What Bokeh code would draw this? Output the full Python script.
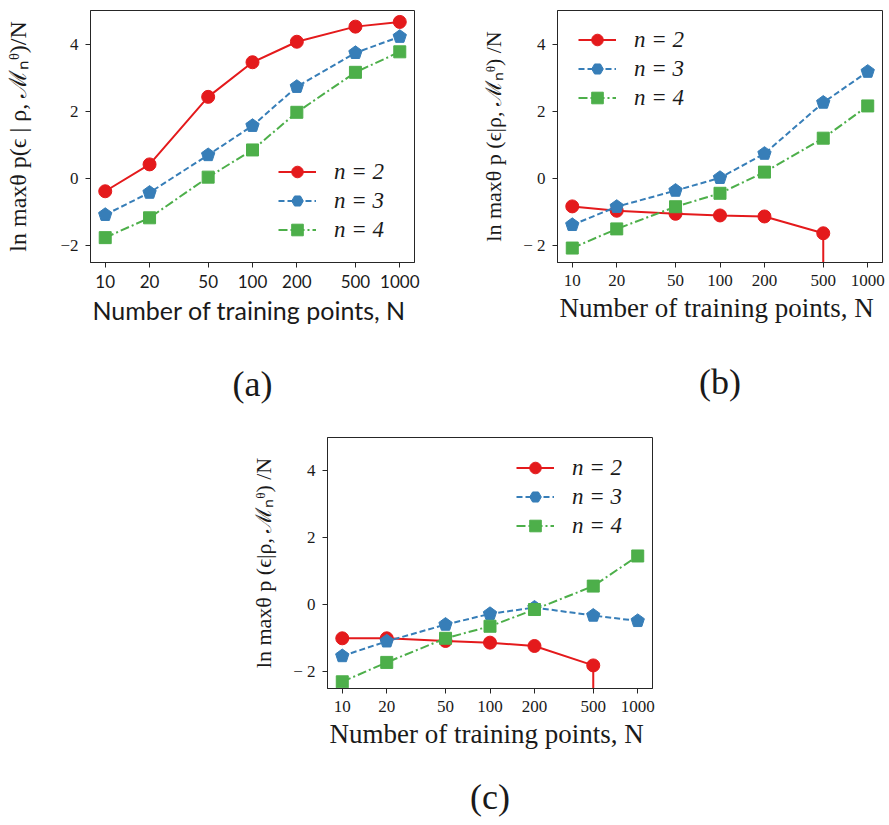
from bokeh.plotting import figure
from bokeh.layouts import column, row
from bokeh.models import (FixedTicker, Legend, LegendItem, LinearAxis, Spacer, Range1d,
                          PrintfTickFormatter)
from bokeh.embed import file_html
from bokeh.resources import INLINE

nan = float("nan")

# ---------------- data ----------------
N_POINTS = [10, 20, 50, 100, 200, 500, 1000]
X_TICKS = [10, 20, 50, 100, 200, 500, 1000]
Y_TICKS = [-2, 0, 2, 4]
SERIES_LABELS = ["n = 2", "n = 3", "n = 4"]
CAPTIONS = ["(a)", "(b)", "(c)"]

a_n2 = [-0.38, 0.42, 2.43, 3.46, 4.07, 4.52, 4.66]
a_n3 = [-1.08, -0.42, 0.70, 1.57, 2.73, 3.74, 4.22]
a_n4 = [-1.76, -1.17, 0.04, 0.85, 1.97, 3.16, 3.77]
a_n2_err_low = [0, 0, 0, 0, 0, 0, 0]

b_n2 = [-0.83, -0.96, -1.05, -1.10, -1.13, -1.63, nan]
b_n3 = [-1.38, -0.84, -0.36, 0.02, 0.74, 2.26, 3.18]
b_n4 = [-2.07, -1.50, -0.84, -0.44, 0.19, 1.20, 2.16]
b_n2_err_low = [0, 0, 0, 0, 0, 3.0, 0]

c_n2 = [-1.00, -1.00, -1.08, -1.13, -1.23, -1.81, nan]
c_n3 = [-1.53, -1.09, -0.59, -0.27, -0.08, -0.32, -0.48]
c_n4 = [-2.30, -1.72, -1.00, -0.64, -0.14, 0.56, 1.46]
c_n2_err_low = [0, 0, 0, 0, 0, 3.0, 0]

YLABEL_A = "ln maxθ p(ϵ | ρ, ℳₙᶿ)/N"
YLABEL_BC = "ln maxθ p (ϵ|ρ, ℳₙᶿ) /N"
XLABEL = "Number of training points,  N"

RED, BLUE, GREEN = "#e41a1c", "#377eb8", "#4daf4a"
SERIF = "Liberation Serif"
PROXY_X = [1]     # outside the visible x range: legend-only proxy marker
PROXY_Y = [0]


def make_panel(n2, n3, n4, err2, ylabel, caption, frame_w, frame_h, borders,
               legend_loc, sans=False, ylabel_standoff=20, cap_standoff=36,
               ylabel_size="22px"):
    bl, br, bt, bb = borders
    p = figure(frame_width=frame_w, frame_height=frame_h, x_axis_type="log",
               x_range=Range1d(10 ** 0.9, 10 ** 3.1), y_range=Range1d(-2.5, 5),
               output_backend="svg", toolbar_location=None,
               min_border_left=bl, min_border_right=br,
               min_border_top=bt, min_border_bottom=bb)
    p.grid.visible = False
    p.outline_line_color = "#262626"
    p.outline_line_width = 1
    p.background_fill_color = "white"
    p.border_fill_color = "white"

    xfont = "Lato" if sans else SERIF
    for ax in (p.xaxis[0], p.yaxis[0]):
        ax.axis_line_color = "#262626"
        ax.major_tick_line_color = "#262626"
        ax.major_tick_in = 0
        ax.major_tick_out = 5
        ax.minor_tick_line_color = None
        ax.major_label_text_color = "#1a1a1a"
        ax.axis_label_text_color = "#1a1a1a"
        ax.axis_label_text_font_style = "normal"
        ax.major_label_standoff = 7

    p.xaxis.ticker = FixedTicker(ticks=X_TICKS, minor_ticks=[])
    p.xaxis.formatter = PrintfTickFormatter(format="%d")
    p.xaxis.major_label_text_font = xfont
    p.xaxis.major_label_text_font_size = "17px"
    p.xaxis.axis_label = XLABEL
    p.xaxis.axis_label_text_font = xfont
    p.xaxis.axis_label_text_font_size = "25px" if sans else "27px"
    p.xaxis.axis_label_standoff = 4

    p.yaxis.ticker = FixedTicker(ticks=Y_TICKS, minor_ticks=[])
    minus = "−" if sans else "− "
    p.yaxis.major_label_overrides = {t: (minus + str(-t) if t < 0 else str(t)) for t in Y_TICKS}
    p.yaxis.major_label_text_font = SERIF
    p.yaxis.major_label_text_font_size = "17px"
    p.yaxis.axis_label = ylabel
    p.yaxis.axis_label_text_font = SERIF
    p.yaxis.axis_label_text_font_size = ylabel_size
    p.yaxis.axis_label_standoff = ylabel_standoff

    # n = 2 : circles, solid, with (lower) error bars
    lo = [v - e for v, e in zip(n2, err2)]
    p.segment(x0=N_POINTS, y0=n2, x1=N_POINTS, y1=lo, line_color=RED, line_width=2)
    l2 = p.line(N_POINTS, n2, line_color=RED, line_width=2)
    m2 = p.scatter(N_POINTS, n2, marker="circle", size=13, fill_color=RED, line_color=RED)

    # n = 3 : pentagons, dashed
    l3 = p.line(N_POINTS, n3, line_color=BLUE, line_width=2, line_dash="6 3")
    p.ngon(x=N_POINTS, y=n3, radius=7, radius_units="screen", n=5,
           fill_color=BLUE, line_color=BLUE)
    m3 = p.scatter(PROXY_X, PROXY_Y, marker="hex", size=12, fill_color=BLUE, line_color=BLUE)

    # n = 4 : squares, dash-dot
    l4 = p.line(N_POINTS, n4, line_color=GREEN, line_width=2, line_dash="9 3 2 3")
    m4 = p.scatter(N_POINTS, n4, marker="square", size=12, fill_color=GREEN, line_color=GREEN)

    legend = Legend(items=[
        LegendItem(label=SERIES_LABELS[0], renderers=[l2, m2]),
        LegendItem(label=SERIES_LABELS[1], renderers=[l3, m3]),
        LegendItem(label=SERIES_LABELS[2], renderers=[l4, m4]),
    ], location=legend_loc, padding=0, margin=0, spacing=0,
        glyph_width=38, glyph_height=29, label_height=29, label_standoff=18,
        border_line_color=None, background_fill_alpha=0,
        label_text_font=SERIF, label_text_font_style="italic",
        label_text_font_size="23px", label_text_color="#1a1a1a")
    p.add_layout(legend)

    # panel caption, placed as an extra tick-less axis below the x axis
    cap_axis = LinearAxis(axis_label=caption, ticker=FixedTicker(ticks=[], minor_ticks=[]),
                          axis_line_color=None, major_tick_line_color=None,
                          minor_tick_line_color=None, major_tick_out=0, major_tick_in=0,
                          minor_tick_out=0, minor_tick_in=0, major_label_standoff=0,
                          major_label_text_font_size="0px",
                          axis_label_standoff=cap_standoff, axis_label_text_font=SERIF,
                          axis_label_text_font_size="36px",
                          axis_label_text_font_style="normal",
                          axis_label_text_color="#1a1a1a")
    p.add_layout(cap_axis, "below")
    return p


pa = make_panel(a_n2, a_n3, a_n4, a_n2_err_low, YLABEL_A, CAPTIONS[0], 324, 252,
                (90, 34, 10, 158), (188, 18), sans=True, ylabel_standoff=26,
                cap_standoff=36, ylabel_size="24px")
pb = make_panel(b_n2, b_n3, b_n4, b_n2_err_low, YLABEL_BC, CAPTIONS[1], 325, 252,
                (109, 7, 10, 158), (21, 150), ylabel_standoff=14, cap_standoff=36)
pc = make_panel(c_n2, c_n3, c_n4, c_n2_err_low, YLABEL_BC, CAPTIONS[2], 325, 251,
                (87, 20, 17, 128), (189, 148), ylabel_standoff=14, cap_standoff=25)

layout = column(row(pa, pb), row(Spacer(width=240, height=10), pc))
open("out.html", "w").write(file_html(layout, INLINE))
